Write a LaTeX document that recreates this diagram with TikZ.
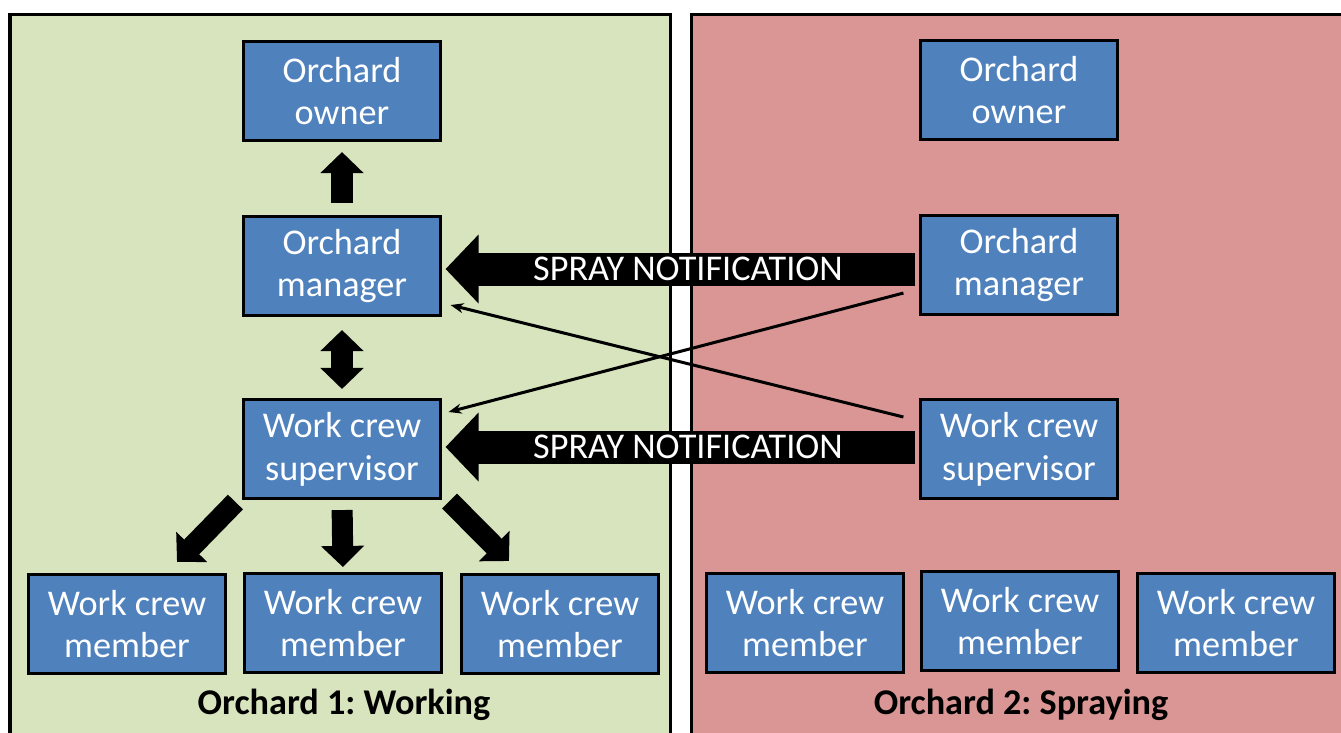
\documentclass[tikz,border=0pt]{standalone}
\usepackage{fontspec}
\setmainfont{Carlito}
\usepackage{tikz}
\usetikzlibrary{arrows.meta, positioning}
\frenchspacing
\definecolor{orchgreen}{RGB}{215,228,189}
\definecolor{orchred}{RGB}{217,150,148}
\definecolor{roleblue}{RGB}{79,129,189}
\tikzset{
    role/.style={rectangle, draw=black, line width=0.03cm, fill=roleblue,
                 minimum width=1.96cm, minimum height=0.99cm, inner sep=0pt, align=center,
                 font=\fontsize{10.3}{12.2}\selectfont, text=white},
    panel/.style={draw=black, line width=0.03cm},
    blockarrow/.style={line width=0.21cm, draw=black, -{Triangle[length=0.21cm, width=0.42cm]}},
    blockboth/.style={line width=0.21cm, draw=black,
                      {Triangle[length=0.21cm, width=0.42cm]}-{Triangle[length=0.21cm, width=0.42cm]}},
    sprayarrow/.style={line width=0.33cm, draw=black, -{Triangle[length=0.33cm, width=0.67cm]}},
    notelabel/.style={font=\fontsize{10.3}{12.2}\selectfont, text=white, inner sep=0pt},
    thinarrow/.style={line width=0.03cm, draw=black, -{Stealth[length=0.13cm, width=0.10cm]}},
    orchlabel/.style={font=\fontsize{10.3}{12.2}\selectfont\bfseries, inner sep=0pt},
}

\begin{document}
\begin{tikzpicture}[x=0.01cm, y=-0.01cm]
    \useasboundingbox (0,0) rectangle (1341,732);
    \clip (0,0) rectangle (1341,732);

    % Panels
    \draw[panel, fill=orchgreen] (10,14) rectangle (670,745);
    \draw[panel, fill=orchred] (691,14) rectangle (1360,745);
    \node[orchlabel] (lab1) at (344,705) {Orchard 1: Working};
    \node[orchlabel] (lab2) at (1021,705) {Orchard 2: Spraying};

    % Orchard 1
    \node[role] (lown) at (342,91) {Orchard\\owner};
    \node[role] (lmgr) at (342,266) {Orchard\\manager};
    \node[role] (lsup) at (342,449) {Work crew\\supervisor};
    \node[role] (lmem1) at (127,624) {Work crew\\member};
    \node[role] (lmem2) at (343,623) {Work crew\\member};
    \node[role] (lmem3) at (560,624) {Work crew\\member};

    % Orchard 2
    \node[role] (rown) at (1019,90) {Orchard\\owner};
    \node[role] (rmgr) at (1019,265) {Orchard\\manager};
    \node[role] (rsup) at (1019,449) {Work crew\\supervisor};
    \node[role] (rmem1) at (805,623) {Work crew\\member};
    \node[role] (rmem2) at (1020,621) {Work crew\\member};
    \node[role] (rmem3) at (1236,623) {Work crew\\member};

    % Block arrows
    \draw[blockarrow, shorten <=0.12cm, shorten >=0.10cm] (lmgr.north) -- (lown.south);
    \draw[blockboth, shorten <=0.13cm, shorten >=0.09cm] (lmgr.south) -- (lsup.north);
    \draw[blockarrow, shorten <=0.10cm, shorten >=0.05cm] (lsup.south) -- (lmem2.north);
    \draw[blockarrow] ([xshift=-0.07cm,yshift=-0.02cm]lsup.south west) -- ([xshift=0.50cm,yshift=0.11cm]lmem1.north);
    \draw[blockarrow] ([xshift=0.08cm,yshift=-0.01cm]lsup.south east) -- ([xshift=-0.51cm,yshift=0.12cm]lmem3.north);

    % Spray notifications
    \draw[sprayarrow] ([xshift=-0.04cm,yshift=-0.04cm]rmgr.west) -- ([xshift=0.04cm,yshift=-0.03cm]lmgr.east)
        node[notelabel, pos=0.484] (note1) {SPRAY NOTIFICATION};
    \draw[sprayarrow] ([xshift=-0.04cm,yshift=0.02cm]rsup.west) -- ([xshift=0.04cm,yshift=0.02cm]lsup.east)
        node[notelabel, pos=0.484] (note2) {SPRAY NOTIFICATION};

    % Crossing lines
    \draw[thinarrow] ([xshift=-0.16cm,yshift=-0.19cm]rsup.north west) -- ([xshift=0.09cm,yshift=0.12cm]lmgr.south east);
    \draw[thinarrow] ([xshift=-0.16cm,yshift=0.23cm]rmgr.south west) -- ([xshift=0.07cm,yshift=-0.14cm]lsup.north east);
\end{tikzpicture}
\end{document}
